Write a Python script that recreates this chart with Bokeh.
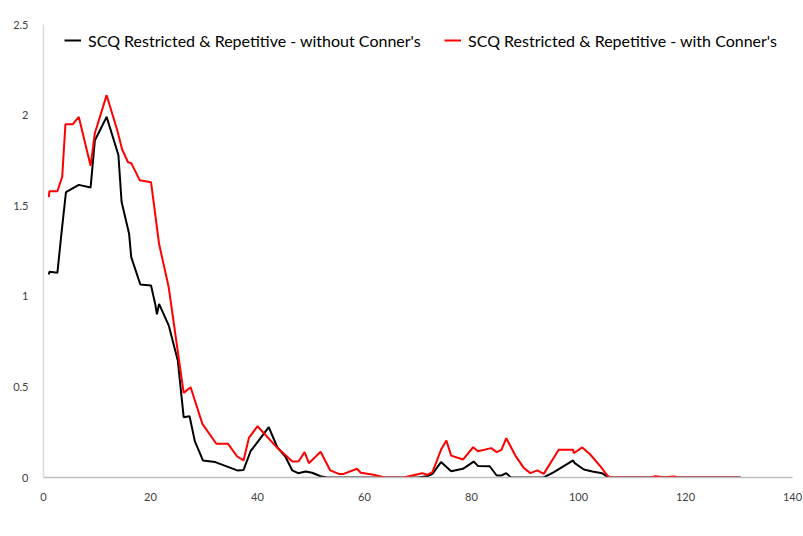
from bokeh.plotting import figure
from bokeh.models import Legend, LegendItem, FixedTicker, Range1d
from bokeh.embed import file_html
from bokeh.resources import INLINE

# Series: SCQ Restricted & Repetitive - without Conner's (black)
x_without = [1.0, 1.1, 2.6, 3.4, 4.2, 6.6, 8.8, 9.6, 11.8, 14.0, 14.6, 16.0, 16.4,
             18.1, 20.1, 20.9, 21.2, 21.6, 23.4, 25.1, 26.2, 27.3, 28.3, 29.8, 32.1,
             34.6, 36.2, 37.4, 38.7, 40.0, 42.1, 43.7, 45.2, 46.5, 47.6, 49.0, 50.2,
             51.8, 53.0, 66.0, 70.0, 71.7, 72.7, 74.3, 76.2, 78.4, 80.4, 81.2, 83.4,
             84.7, 85.6, 86.5, 87.3, 88.5, 93.5, 95.4, 99.0, 99.3, 101.0, 102.6,
             104.4, 105.5, 106.0, 130.3]
y_without = [1.12, 1.135, 1.13, 1.36, 1.575, 1.615, 1.60, 1.86, 1.99, 1.78, 1.52,
             1.345, 1.216, 1.065, 1.06, 0.955, 0.90, 0.958, 0.84, 0.646, 0.333, 0.338,
             0.199, 0.094, 0.085, 0.057, 0.039, 0.042, 0.145, 0.195, 0.278, 0.167,
             0.116, 0.039, 0.024, 0.033, 0.026, 0.007, 0.0, 0.0, 0.0, 0.007, 0.02,
             0.085, 0.035, 0.048, 0.088, 0.064, 0.062, 0.011, 0.011, 0.024, 0.002,
             0.0, 0.0, 0.03, 0.094, 0.079, 0.044, 0.033, 0.024, 0.002, 0.0, 0.0]

# Series: SCQ Restricted & Repetitive - with Conner's (red)
x_with = [1.0, 1.1, 2.6, 3.5, 4.1, 5.5, 6.6, 8.8, 9.6, 11.8, 13.8, 14.7, 15.8, 16.4,
          18.0, 20.1, 21.6, 23.4, 26.2, 27.5, 29.7, 32.3, 34.5, 36.2, 37.4, 38.4,
          40.0, 43.4, 45.5, 46.5, 47.7, 48.8, 49.6, 51.8, 53.6, 55.2, 56.1, 58.6,
          59.3, 61.7, 63.6, 67.3, 70.8, 71.7, 72.7, 74.3, 75.3, 76.2, 78.4, 80.3,
          81.2, 83.7, 84.7, 85.6, 86.5, 88.2, 89.8, 91.0, 92.3, 93.5, 96.3, 99.0,
          99.1, 100.7, 102.2, 104.1, 105.4, 106.0, 113.5, 114.4, 116.0, 117.8,
          118.8, 130.3]
y_with = [1.547, 1.58, 1.58, 1.66, 1.95, 1.95, 1.99, 1.72, 1.90, 2.11, 1.915, 1.81,
          1.74, 1.735, 1.64, 1.63, 1.29, 1.05, 0.467, 0.498, 0.296, 0.186, 0.186,
          0.116, 0.094, 0.219, 0.283, 0.173, 0.116, 0.088, 0.09, 0.14, 0.079, 0.142,
          0.039, 0.02, 0.02, 0.048, 0.026, 0.015, 0.002, 0.0, 0.024, 0.015, 0.03,
          0.153, 0.204, 0.121, 0.099, 0.167, 0.145, 0.162, 0.14, 0.153, 0.217,
          0.121, 0.052, 0.024, 0.039, 0.02, 0.153, 0.153, 0.134, 0.166, 0.127,
          0.061, 0.011, 0.0, 0.0, 0.007, 0.002, 0.006, 0.0, 0.0]

x_ticks = [0, 20, 40, 60, 80, 100, 120, 140]
y_ticks = [0, 0.5, 1, 1.5, 2, 2.5]
y_tick_labels = ["0", "0.5", "1", "1.5", "2", "2.5"]
series_names = ["SCQ Restricted & Repetitive - without Conner's",
                "SCQ Restricted & Repetitive - with Conner's"]

FONT = "Lato"

p = figure(width=803, height=536, output_backend="svg", toolbar_location=None,
           x_range=Range1d(0, 140), y_range=Range1d(0, 2.5),
           min_border_left=43, min_border_right=11, min_border_top=24,
           min_border_bottom=59)
p.outline_line_color = None
p.xgrid.visible = False
p.ygrid.visible = False
p.background_fill_color = "white"
p.border_fill_color = "white"

r1 = p.line(x_without, y_without, line_color="black", line_width=2)
r2 = p.line(x_with, y_with, line_color="#ff0000", line_width=2)

p.xaxis.ticker = FixedTicker(ticks=x_ticks)
p.yaxis.ticker = FixedTicker(ticks=y_ticks)
p.yaxis.major_label_overrides = {t: l for t, l in zip(y_ticks, y_tick_labels)}
for ax in (p.xaxis[0], p.yaxis[0]):
    ax.major_tick_line_color = None
    ax.minor_tick_line_color = None
    ax.major_label_text_font = FONT
    ax.major_label_text_font_size = "11px"
    ax.major_label_text_color = "#404040"
    ax.major_label_standoff = 9
p.xaxis.axis_line_color = "#bfbfbf"
p.xaxis.axis_line_width = 1.5
p.yaxis.axis_line_color = "#d9d9d9"
p.yaxis.axis_line_width = 1.5

leg1 = Legend(items=[LegendItem(label=series_names[0], renderers=[r1])],
              location=(21, 427), orientation="horizontal")
leg2 = Legend(items=[LegendItem(label=series_names[1], renderers=[r2])],
              location=(401, 427), orientation="horizontal")
for lg in (leg1, leg2):
    lg.padding = 0
    lg.margin = 0
    lg.border_line_color = None
    lg.background_fill_alpha = 0
    lg.glyph_width = 17
    lg.glyph_height = 20
    lg.label_standoff = 7
    lg.label_text_font = FONT
    lg.label_text_font_size = "16px"
    lg.label_text_color = "#000000"
    lg.label_height = 20
    p.add_layout(lg, "center")

open("out.html", "w").write(file_html(p, INLINE))
